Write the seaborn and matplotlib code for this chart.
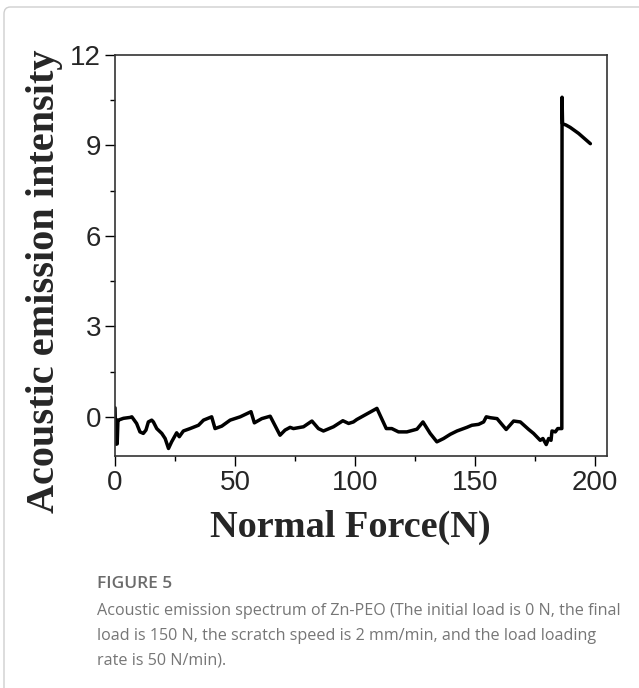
import numpy as np
import pandas as pd
import matplotlib

matplotlib.use("Agg")

import matplotlib.pyplot as plt
import seaborn as sns
from matplotlib.patches import FancyBboxPatch

# values
force = [0, 0.3, 0.6, 0.9, 1.2, 1.4, 3.5, 6.3, 7.0, 9.0, 10.4, 11.8, 12.9, 13.9,
         15.3, 16.0, 17.4, 19.5, 20.9, 22.3, 23.6, 25.7, 26.8, 28.5, 31.3, 34.8,
         36.9, 40.3, 41.7, 44.5, 48.0, 52.2, 56.7, 58.1, 61.2, 64.7, 68.8, 70.9,
         73.0, 74.4, 78.6, 82.1, 84.8, 86.9, 91.1, 95.0, 97.4, 99.4, 100.8, 109.2,
         113.1, 115.4, 118.2, 121.7, 125.9, 128.4, 131.4, 134.2, 137.0, 139.8,
         142.6, 146.7, 148.8, 151.6, 153.7, 154.8, 156.5, 159.3, 163.1, 166.2,
         169.0, 172.5, 174.5, 177.3, 178.4, 179.8, 180.8, 181.8, 182.2, 183.6,
         184.6, 186.3, 186.4, 186.6, 188.0, 189.8, 193.3, 198.2]
intensity = [0.3, -0.9, -0.1, -0.9, -0.15, -0.11, -0.05, -0.02, 0.0, -0.22, -0.5,
             -0.55, -0.44, -0.17, -0.11, -0.17, -0.39, -0.55, -0.72, -1.05, -0.83,
             -0.53, -0.66, -0.47, -0.39, -0.28, -0.11, 0.0, -0.39, -0.31, -0.11,
             0.0, 0.17, -0.2, -0.06, 0.02, -0.61, -0.44, -0.35, -0.39, -0.33,
             -0.14, -0.39, -0.47, -0.33, -0.13, -0.22, -0.17, -0.09, 0.28, -0.39,
             -0.39, -0.5, -0.5, -0.41, -0.17, -0.55, -0.83, -0.72, -0.58, -0.47,
             -0.35, -0.28, -0.25, -0.17, 0.0, -0.03, -0.06, -0.42, -0.14, -0.17,
             -0.42, -0.55, -0.78, -0.72, -0.92, -0.72, -0.78, -0.47, -0.5, -0.39,
             -0.39, 10.6, 9.72, 9.68, 9.6, 9.4, 9.06]

x_ticks = [0, 50, 100, 150, 200]
y_ticks = [0, 3, 6, 9, 12]

caption_head = "FIGURE 5"
caption_body = ("Acoustic emission spectrum of Zn-PEO (The initial load is 0 N, the final\n"
                "load is 150 N, the scratch speed is 2 mm/min, and the load loading\n"
                "rate is 50 N/min).")

df = pd.DataFrame({"force": force, "intensity": intensity})

sns.set_style("ticks")
plt.rcParams["font.family"] = ["Liberation Sans", "DejaVu Sans"]

fig = plt.figure(figsize=(6.39, 6.88), dpi=100)
ax = fig.add_axes([0.18, 0.3372, 0.7694, 0.5828])

sns.lineplot(data=df, x="force", y="intensity", sort=False, color="black",
             linewidth=2.5, ax=ax, estimator=None)

ax.set_xlim(0, 205)
ax.set_ylim(-1.3, 12)
ax.set_xticks(x_ticks)
ax.set_yticks(y_ticks)
ax.set_xticks([25, 75, 125, 175], minor=True)
ax.set_yticks([1.5, 4.5, 7.5, 10.5], minor=True)
ax.tick_params(which="major", length=7, width=1, labelsize=20, pad=3, color="black")
ax.tick_params(which="minor", length=3.5, width=1, color="black")
for s in ax.spines.values():
    s.set_color("#333333")
    s.set_linewidth(1.2)
ax.set_xlabel("")
ax.set_ylabel("")

# axis titles placed where they sit in the reference
serif = ["Liberation Serif", "DejaVu Serif"]
fig.text(350 / 639, 1 - 537 / 688, "Normal Force(N)", family=serif, fontweight="bold",
         fontsize=27.5, ha="center", va="baseline")
fig.text(45 / 639, 1 - 281 / 688, "Acoustic emission intensity", family=serif,
         fontweight="bold", fontsize=29, rotation=90, ha="center", va="center")

# caption
fig.text(97 / 639, 1 - 584 / 688, caption_head, fontsize=12.5, color="#6b6b6b",
         fontweight="semibold", family=["Open Sans", "DejaVu Sans"], va="center")
fig.text(97 / 639, 1 - 603 / 688, caption_body, fontsize=11.6, color="#767676",
         family=["Open Sans", "DejaVu Sans"], va="top", linespacing=1.72)

# light frame at the left and top
frame = FancyBboxPatch((4 / 639, -0.1), 1.2, 1.1 - 7 / 688,
                       boxstyle="round,pad=0,rounding_size=0.01",
                       transform=fig.transFigure, fill=False,
                       edgecolor="#cfcfcf", linewidth=1)
fig.patches.append(frame)

fig.savefig("out.png", dpi=100)
